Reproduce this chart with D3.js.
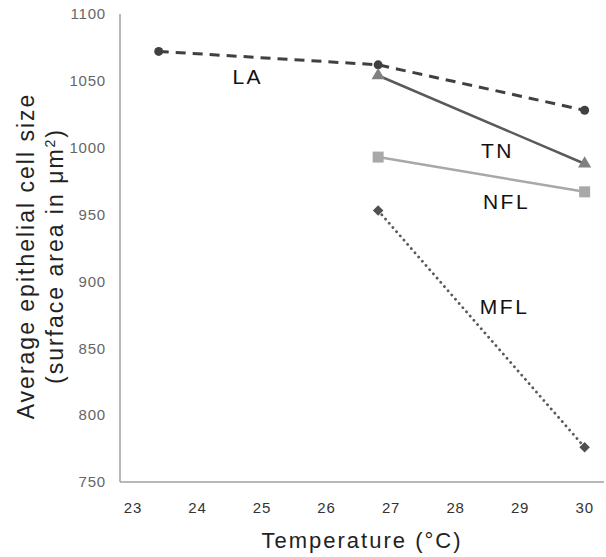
<!DOCTYPE html>
<html><head><meta charset="utf-8">
<script src="https://cdn.jsdelivr.net/npm/d3@7/dist/d3.min.js"></script>
<style>body{margin:0;background:#fff}svg{display:block}</style>
</head><body>
<script>
const xTicks = [23,24,25,26,27,28,29,30];
const yTicks = [750,800,850,900,950,1000,1050,1100];
const laX = [23.4, 26.8, 30], laY = [1072, 1062, 1028];
const tnX = [26.8, 30], tnY = [1054, 988];
const nflX = [26.8, 30], nflY = [993, 967];
const mflX = [26.8, 30], mflY = [953, 776];
const labels = [
  {text:"LA", x:24.78, y:1053},
  {text:"TN", x:28.65, y:998},
  {text:"NFL", x:28.79, y:960},
  {text:"MFL", x:28.76, y:881}
];

const W=606,H=557;
const svg=d3.select("body").append("svg").attr("width",W).attr("height",H);
const x=d3.scaleLinear().domain([22.8,30.3]).range([120,604]);
const y=d3.scaleLinear().domain([750,1100]).range([482,14]);
const font="Liberation Sans, Arial, sans-serif";

svg.append("line").attr("x1",x(22.8)).attr("x2",x(22.8)).attr("y1",y(1100)).attr("y2",y(750)).attr("stroke","#a0a0a0").attr("stroke-width",1.5);
svg.append("line").attr("x1",x(22.8)).attr("x2",x(30.3)).attr("y1",y(750)).attr("y2",y(750)).attr("stroke","#a0a0a0").attr("stroke-width",1.5);

svg.append("g").selectAll("text").data(yTicks).join("text")
  .attr("x",106).attr("y",d=>y(d)).attr("dy","0.35em").attr("text-anchor","end")
  .attr("font-family",font).attr("font-size",15).attr("letter-spacing",0.8).attr("fill","#666").text(d=>d);
svg.append("g").selectAll("text").data(xTicks).join("text")
  .attr("x",d=>x(d)).attr("y",508).attr("dy","0.35em").attr("text-anchor","middle")
  .attr("font-family",font).attr("font-size",15).attr("letter-spacing",0.8).attr("fill","#333").text(d=>d);

svg.append("text").attr("x",362).attr("y",548).attr("text-anchor","middle")
  .attr("font-family",font).attr("font-size",22).attr("fill","#222").attr("letter-spacing",2).text("Temperature (°C)");
const yt=svg.append("text").attr("transform","translate(0,256) rotate(-90)").attr("text-anchor","middle")
  .attr("font-family",font).attr("font-size",23).attr("fill","#222").attr("letter-spacing",2);
yt.append("tspan").attr("x",0).attr("y",34).text("Average epithelial cell size");
const t2=yt.append("tspan").attr("x",0).attr("y",63).text("(surface area in μm");
t2.append("tspan").attr("dy",-8).attr("font-size",14).text("2");
t2.append("tspan").attr("dy",8).text(")");

const line=d3.line().x(d=>x(d[0])).y(d=>y(d[1]));
function series(xs,ys,color,width,dash,cap){
  const pts=xs.map((v,i)=>[v,ys[i]]);
  svg.append("path").datum(pts).attr("d",line).attr("fill","none").attr("stroke",color)
    .attr("stroke-width",width).attr("stroke-dasharray",dash||null).attr("stroke-linecap",cap||"butt");
  return pts;
}
const la=series(laX,laY,"#404040",3,"10,7");
const nfl=series(nflX,nflY,"#a8a8a8",2.5);
const tn=series(tnX,tnY,"#5a5a5a",2.5);
const mfl=series(mflX,mflY,"#5a5a5a",2.8,"0.1,5.5","round");

svg.append("g").selectAll("circle").data(la).join("circle")
  .attr("cx",d=>x(d[0])).attr("cy",d=>y(d[1])).attr("r",4.5).attr("fill","#404040");
svg.append("g").selectAll("rect").data(nfl).join("rect")
  .attr("x",d=>x(d[0])-5.5).attr("y",d=>y(d[1])-5.5).attr("width",11).attr("height",11).attr("fill","#a8a8a8");
const tri=d3.symbol().type(d3.symbolTriangle).size(75);
svg.append("g").selectAll("path").data(tn).join("path")
  .attr("transform",d=>`translate(${x(d[0])},${y(d[1])})`).attr("d",tri).attr("fill","#808080");
const dia=d3.symbol().type(d3.symbolSquare).size(55);
svg.append("g").selectAll("path").data(mfl).join("path")
  .attr("transform",d=>`translate(${x(d[0])},${y(d[1])}) rotate(45)`).attr("d",dia).attr("fill","#505050");

svg.append("g").selectAll("text").data(labels).join("text")
  .attr("x",d=>x(d.x)).attr("y",d=>y(d.y)).attr("dy","0.35em").attr("text-anchor","middle")
  .attr("font-family",font).attr("font-size",21).attr("fill","#111").attr("letter-spacing",2.5).text(d=>d.text);
</script>
</body></html>
